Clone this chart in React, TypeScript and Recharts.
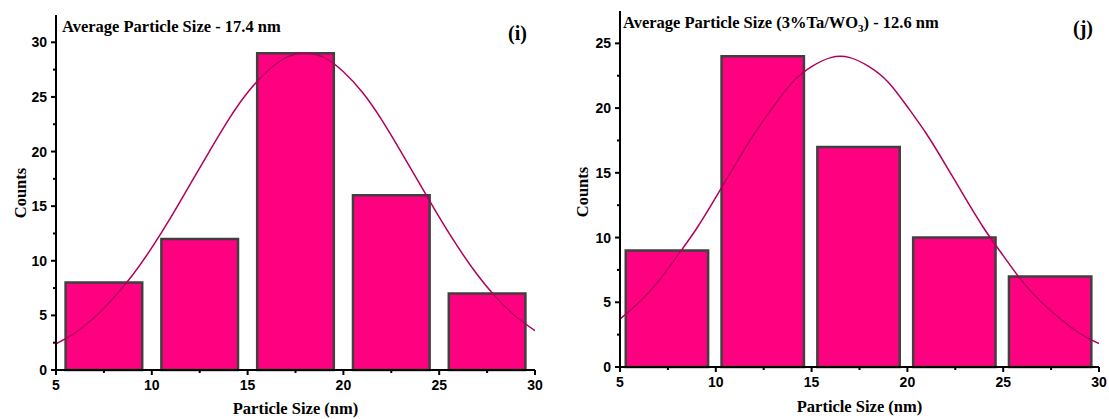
import { ComposedChart, Line, XAxis, YAxis, Label, ReferenceArea } from 'recharts';

// panel (i)
const binStartI = [5.5, 10.5, 15.5, 20.5, 25.5];
const binEndI = [9.5, 14.5, 19.5, 24.5, 29.5];
const countsI = [8, 12, 29, 16, 7];
const fitXI = [5, 6, 7, 8, 9, 10, 11, 12, 13, 14, 15, 16, 17, 18, 19, 20, 21, 22, 23, 24, 25, 26, 27, 28, 29, 30];
const fitYI = [2.4, 3.4, 4.8, 6.6, 8.7, 11.2, 14.0, 17.0, 20.0, 22.9, 25.4, 27.3, 28.6, 29.0, 28.6, 27.3, 25.4, 22.9, 20.0, 17.0, 14.0, 11.2, 8.7, 6.6, 4.9, 3.6];
const yTicksI = [0, 2.5, 5, 7.5, 10, 12.5, 15, 17.5, 20, 22.5, 25, 27.5, 30];
const yMajorI = [0, 5, 10, 15, 20, 25, 30];

// panel (j)
const binStartJ = [5.3, 10.3, 15.3, 20.3, 25.3];
const binEndJ = [9.6, 14.6, 19.6, 24.6, 29.6];
const countsJ = [9, 24, 17, 10, 7];
const fitXJ = [5, 6, 7, 8, 9, 10, 11, 12, 13, 14, 15, 16, 17, 18, 19, 20, 21, 22, 23, 24, 25, 26, 27, 28, 29, 30];
const fitYJ = [3.7, 5.0, 6.6, 8.6, 10.7, 13.1, 15.6, 18.0, 20.1, 22.0, 23.2, 23.9, 23.9, 23.2, 22.0, 20.1, 18.0, 15.6, 13.1, 10.7, 8.6, 6.6, 5.0, 3.7, 2.6, 1.8];
const yTicksJ = [0, 2.5, 5, 7.5, 10, 12.5, 15, 17.5, 20, 22.5, 25];
const yMajorJ = [0, 5, 10, 15, 20, 25];

const xTicks = [5, 7.5, 10, 12.5, 15, 17.5, 20, 22.5, 25, 27.5, 30];
const xMajor = [5, 10, 15, 20, 25, 30];

const barsI = countsI.map((count, i) => ({ x1: binStartI[i], x2: binEndI[i], count }));
const fitI = fitXI.map((x, i) => ({ x, fit: fitYI[i] }));
const barsJ = countsJ.map((count, i) => ({ x1: binStartJ[i], x2: binEndJ[i], count }));
const fitJ = fitXJ.map((x, i) => ({ x, fit: fitYJ[i] }));

const tickFont = { fontFamily: 'Liberation Sans, Arial, sans-serif', fontWeight: 700, fontSize: 14, fill: '#000' };
const serif = 'Liberation Serif, Times New Roman, serif';

const yTick = (majors: number[]) => (props: any) => {
  const { x, y, payload } = props;
  const major = majors.includes(payload.value);
  return (
    <g>
      <line x1={x} x2={x - (major ? 5 : 3)} y1={y} y2={y} stroke="#000" strokeWidth={2} />
      {major && (
        <text x={x - 9} y={y + 5} textAnchor="end" {...tickFont}>
          {payload.value}
        </text>
      )}
    </g>
  );
};

const xTick = (props: any) => {
  const { x, y, payload } = props;
  const major = xMajor.includes(payload.value);
  return (
    <g>
      <line x1={x} x2={x} y1={y} y2={y + (major ? 5 : 3)} stroke="#000" strokeWidth={2} />
      {major && (
        <text x={x} y={y + 20} textAnchor="middle" {...tickFont}>
          {payload.value}
        </text>
      )}
    </g>
  );
};

function Panel(props: {
  bars: any[]; fit: any[]; yMax: number; yTicks: number[]; yMajor: number[];
  width: number; margin: any; yWidth: number; xHeight: number;
  countsX: number; countsY: number; xLabelY: number;
}) {
  const p = props;
  const plotCenter = p.yWidth + (p.width - p.yWidth - p.margin.right) / 2;
  return (
    <ComposedChart width={p.width} height={419} data={p.fit} margin={p.margin}>
      <XAxis
        dataKey="x"
        type="number"
        domain={[5, 30]}
        ticks={xTicks}
        interval={0}
        tick={xTick}
        tickLine={false}
        tickSize={0}
        tickMargin={0}
        height={p.xHeight}
        allowDataOverflow
        axisLine={{ stroke: '#000', strokeWidth: 2 }}
      >
        <Label
          content={() => (
            <text x={plotCenter} y={p.xLabelY} textAnchor="middle" fontFamily={serif} fontWeight={700} fontSize={16.5} fill="#000">
              Particle Size (nm)
            </text>
          )}
        />
      </XAxis>
      <XAxis xAxisId="top" orientation="top" type="number" domain={[5, 30]} tick={false} tickLine={false} height={0} axisLine={{ stroke: '#000', strokeWidth: 2 }} />
      <YAxis
        type="number"
        domain={[0, p.yMax]}
        ticks={p.yTicks}
        interval={0}
        tick={yTick(p.yMajor)}
        tickLine={false}
        tickSize={0}
        tickMargin={0}
        width={p.yWidth}
        allowDataOverflow
        axisLine={{ stroke: '#000', strokeWidth: 2 }}
      >
        <Label
          content={() => (
            <text
              x={p.countsX}
              y={p.countsY}
              transform={`rotate(-90 ${p.countsX} ${p.countsY})`}
              textAnchor="middle"
              fontFamily={serif}
              fontWeight={700}
              fontSize={16.5}
              fill="#000"
            >
              Counts
            </text>
          )}
        />
      </YAxis>
      <YAxis yAxisId="right" orientation="right" type="number" domain={[0, p.yMax]} tick={false} tickLine={false} width={0} axisLine={{ stroke: '#000', strokeWidth: 2 }} />
      {p.bars.map((b, i) => (
        <ReferenceArea
          key={i}
          x1={b.x1}
          x2={b.x2}
          y1={0}
          y2={b.count}
          fill="#FF0080"
          fillOpacity={1}
          stroke="#404040"
          strokeWidth={2.5}
        />
      ))}
      <Line dataKey="fit" type="natural" dot={false} stroke="#B0005C" strokeWidth={1.5} isAnimationActive={false} />
    </ComposedChart>
  );
}

export default function App() {
  return (
    <div style={{ position: 'absolute', left: 0, top: 0, width: 1109, height: 419, background: '#fff' }}>
      <div style={{ position: 'absolute', left: 0, top: 0 }}>
        <Panel
          bars={barsI}
          fit={fitI}
          yMax={32.5}
          yTicks={yTicksI}
          yMajor={yMajorI}
          width={555}
          margin={{ top: 15, right: 20, bottom: 0, left: 0 }}
          yWidth={56}
          xHeight={49}
          countsX={26}
          countsY={193}
          xLabelY={414}
        />
      </div>
      <div style={{ position: 'absolute', left: 555, top: 0 }}>
        <Panel
          bars={barsJ}
          fit={fitJ}
          yMax={27.5}
          yTicks={yTicksJ}
          yMajor={yMajorJ}
          width={554}
          margin={{ top: 11, right: 10, bottom: 0, left: 0 }}
          yWidth={65}
          xHeight={52}
          countsX={33}
          countsY={192}
          xLabelY={412}
        />
      </div>
      <div style={{ position: 'absolute', left: 62, top: 19, fontFamily: serif, fontWeight: 700, fontSize: 16.5, lineHeight: 1, whiteSpace: 'nowrap' }}>
        Average Particle Size - 17.4 nm
      </div>
      <div style={{ position: 'absolute', left: 508, top: 23, fontFamily: serif, fontWeight: 700, fontSize: 20, lineHeight: 1 }}>(i)</div>
      <div style={{ position: 'absolute', left: 623, top: 15, fontFamily: serif, fontWeight: 700, fontSize: 16.5, lineHeight: 1, whiteSpace: 'nowrap' }}>
        Average Particle Size (3%Ta/WO<sub style={{ fontSize: 11, verticalAlign: 'sub', lineHeight: 0 }}>3</sub>) - 12.6 nm
      </div>
      <div style={{ position: 'absolute', left: 1073, top: 18, fontFamily: serif, fontWeight: 700, fontSize: 20, lineHeight: 1 }}>(j)</div>
    </div>
  );
}
